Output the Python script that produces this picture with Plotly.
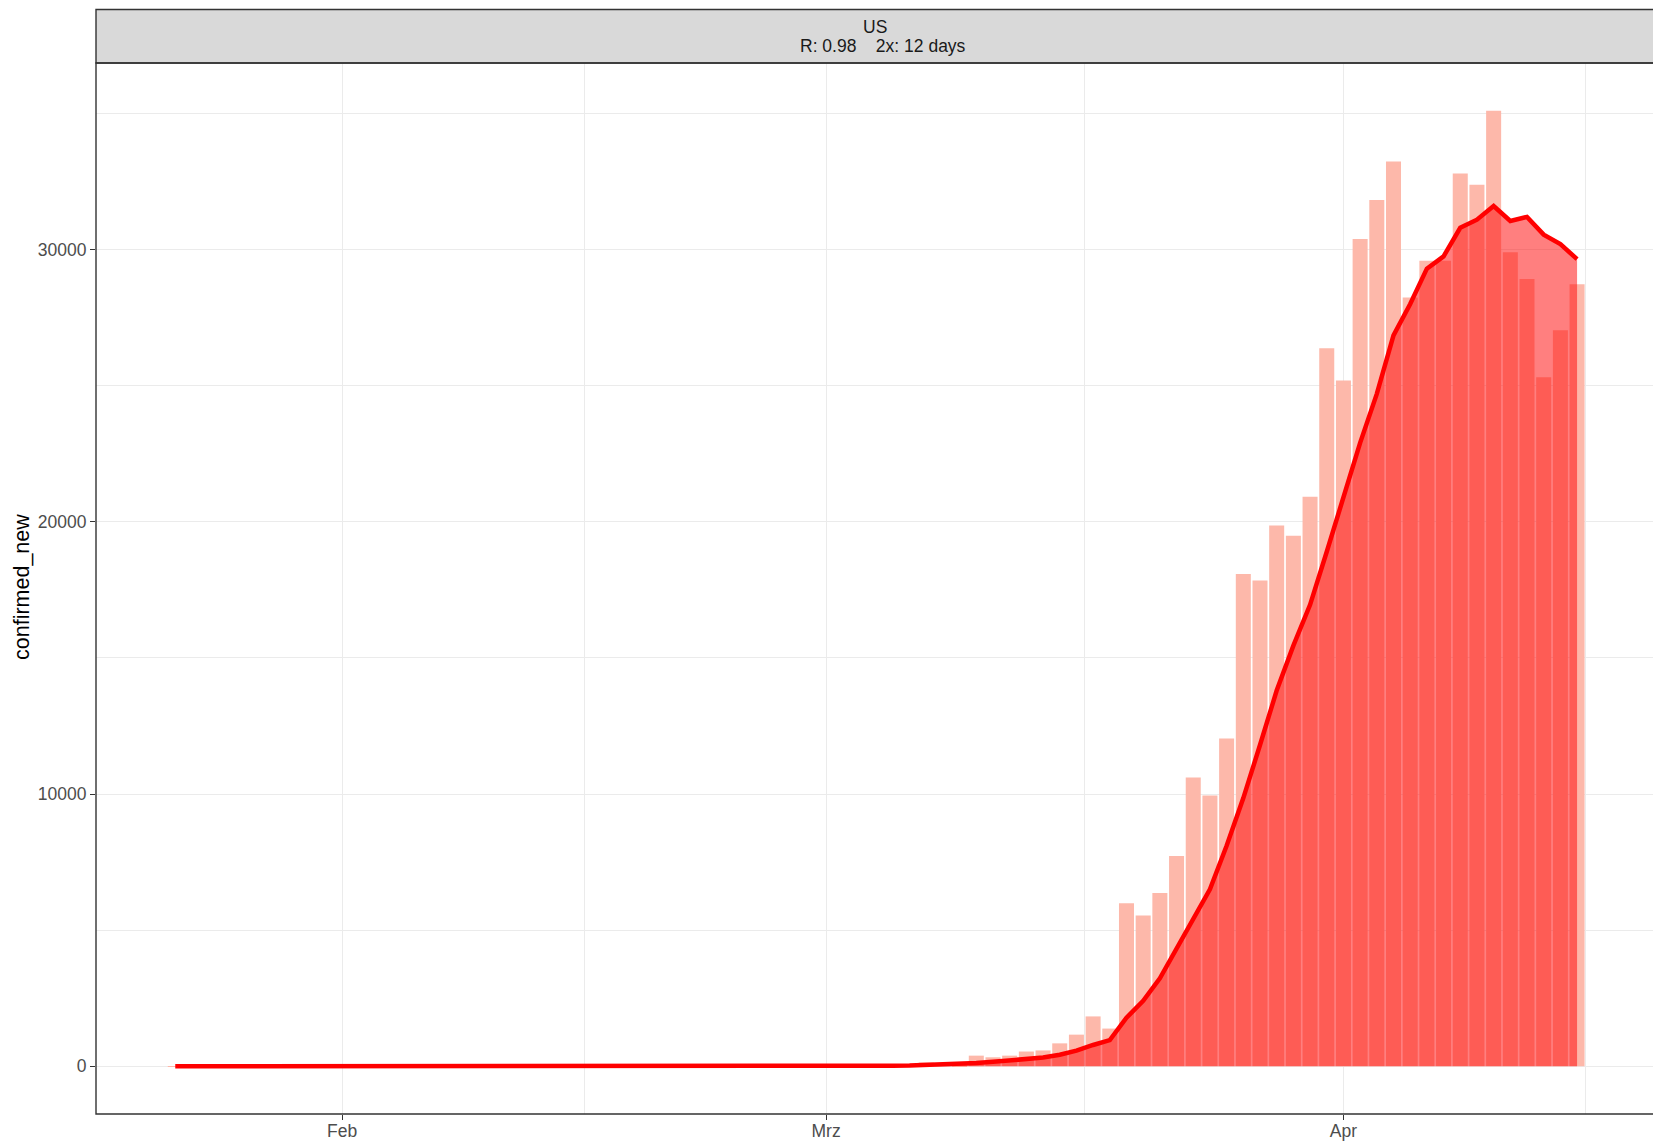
import pandas as pd
import plotly.graph_objects as go

# ---- data -------------------------------------------------------------
start_date = "2020-01-22"
end_date = "2020-04-15"
dates = pd.date_range(start_date, end_date, freq="D")

# daily new confirmed cases (bars)
confirmed_new = [
    # Jan 22 - Jan 31
    1, 0, 1, 0, 3, 0, 0, 0, 0, 2,
    # Feb 1 - Feb 29
    1, 0, 3, 0, 0, 0, 0, 0, 1, 0, 1, 0, 1, 0, 0, 0, 0, 0, 0, 0,
    2, 0, 0, 36, 0, 6, 1, 2, 8,
    # Mar 1 - Mar 31
    6, 24, 20, 31, 68, 45, 140, 116, 65, 389, 328, 389, 540, 580, 840,
    1160, 1830, 1383, 5990, 5540, 6360, 7720, 10610, 9950, 12040, 18080,
    17840, 19860, 19490, 20920, 26380,
    # Apr 1 - Apr 15
    25190, 30390, 31820, 33240, 28240, 29590, 29590, 32800, 32380, 35100,
    29900, 28920, 25310, 27040, 28730,
]

# smoothed trend (line + shaded area)
smoothed = [
    # Jan 22 - Jan 31
    1, 0.5, 0.7, 0.5, 1, 0.8, 0.7, 0.6, 0.6, 0.9,
    # Feb 1 - Feb 29
    0.9, 0.9, 1, 1, 0.9, 0.6, 0.6, 0.6, 0.6, 0.1, 0.3, 0.3, 0.4, 0.4,
    0.3, 0.3, 0.1, 0.1, 0, 0, 0.3, 0.3, 0.3, 5.4, 5.4, 6.3, 6.4, 6.4, 7.6,
    # Mar 1 - Mar 31
    6, 10, 12, 15, 21, 27, 48, 63, 70, 120, 160, 200, 255, 320, 420,
    575, 780, 960, 1780, 2400, 3230, 4300, 5400, 6500, 8100, 9850,
    11800, 13800, 15450, 16950, 18900,
    # Apr 1 - Apr 15
    20900, 22900, 24700, 26850, 28000, 29300, 29750, 30800, 31100, 31600,
    31050, 31200, 30550, 30200, 29650,
]

x_tick_vals = ["2020-02-01", "2020-03-01", "2020-04-01"]
x_tick_text = ["Feb", "Mrz", "Apr"]
x_minor_vals = ["2020-02-15 12:00", "2020-03-16 12:00", "2020-04-15 12:00"]
y_tick_vals = [0, 10000, 20000, 30000]
y_tick_text = ["0", "10000", "20000", "30000"]
y_minor_vals = [5000, 15000, 25000, 35000]

strip_title = "US"
strip_subtitle = "R: 0.98\u00a0\u00a0\u00a0\u00a02x: 12 days"
y_title = "confirmed_new"

# ---- figure -------------------------------------------------------------
FONT = "Liberation Sans, Arial, sans-serif"
W, H = 1653, 1141
ML, MR, MT, MB = 96, 0, 63, 27
plot_h = H - MT - MB
plot_w = W - ML - MR

fig = go.Figure()
fig.add_trace(go.Bar(
    x=dates, y=confirmed_new,
    marker=dict(color="#FDB8AA", line=dict(width=0)),
    showlegend=False,
))
fig.add_trace(go.Scatter(
    x=dates, y=smoothed, mode="lines",
    fill="tozeroy", fillcolor="rgba(255,0,0,0.5)",
    line=dict(color="#FF0000", width=4.5),
    showlegend=False,
))

grid_col = "#EBEBEB"
fig.update_layout(
    width=W, height=H,
    margin=dict(l=ML, r=MR, t=MT, b=MB, pad=0, autoexpand=False),
    paper_bgcolor="white", plot_bgcolor="white",
    bargap=0.1,
    font=dict(family=FONT, size=17.5, color="#4D4D4D"),
    xaxis=dict(
        type="date", automargin=False,
        range=["2020-01-17 06:00", "2020-04-19 13:12"],
        tickmode="array", tickvals=x_tick_vals, ticktext=x_tick_text,
        ticks="outside", ticklen=5, tickwidth=1.1, tickcolor="#333333",
        ticklabelstandoff=-4,
        showgrid=True, gridcolor=grid_col, gridwidth=1.1,
        minor=dict(tickmode="array", tickvals=x_minor_vals, showgrid=True,
                   gridcolor=grid_col, gridwidth=0.6, ticks=""),
        zeroline=False, showline=False,
        tickfont=dict(family=FONT, size=17.5, color="#4D4D4D"),
    ),
    yaxis=dict(
        automargin=False,
        range=[-1755, 36855],
        tickmode="array", tickvals=y_tick_vals, ticktext=y_tick_text,
        ticks="outside", ticklen=5, tickwidth=1.1, tickcolor="#333333",
        showgrid=True, gridcolor=grid_col, gridwidth=1.1,
        minor=dict(tickmode="array", tickvals=y_minor_vals, showgrid=True,
                   gridcolor=grid_col, gridwidth=0.6, ticks=""),
        zeroline=False, showline=False,
        tickfont=dict(family=FONT, size=17.5, color="#4D4D4D"),
    ),
)

strip_top_px = 9.5
strip_y1 = 1 + (MT - strip_top_px) / plot_h

fig.add_shape(type="rect", xref="paper", yref="paper",
              x0=0, x1=1.02, y0=1, y1=strip_y1,
              fillcolor="#D9D9D9", line=dict(color="#333333", width=1.4),
              layer="above")
fig.add_shape(type="rect", xref="paper", yref="paper",
              x0=0, x1=1.02, y0=0, y1=1,
              fillcolor="rgba(0,0,0,0)", line=dict(color="#333333", width=1.4),
              layer="above")

def py(px_from_top):
    return (H - MB - px_from_top) / plot_h

fig.add_annotation(text=strip_title, xref="paper", yref="paper",
                   x=0.5, y=py(27.4), showarrow=False,
                   xanchor="center", yanchor="middle",
                   font=dict(family=FONT, size=17.5, color="#1A1A1A"))
fig.add_annotation(text=strip_subtitle, xref="paper", yref="paper",
                   x=0.5, y=py(46.4), xshift=8, showarrow=False,
                   xanchor="center", yanchor="middle",
                   font=dict(family=FONT, size=17.5, color="#1A1A1A"))
fig.add_annotation(text=y_title, xref="paper", yref="paper",
                   x=(22 - ML) / plot_w, y=py(587), showarrow=False,
                   textangle=-90, xanchor="center", yanchor="middle",
                   font=dict(family=FONT, size=21.5, color="black"))

fig.write_html(
    "out.html",
    config={"displayModeBar": False},
    post_script="document.body.style.margin='0';document.body.style.overflow='hidden';",
)
